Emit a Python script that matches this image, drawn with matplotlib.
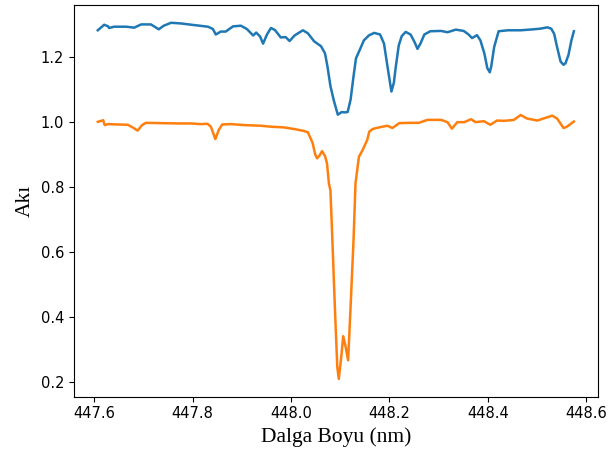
import matplotlib
matplotlib.use("Agg")
import matplotlib.pyplot as plt

# wavelength (nm) and flux, upper spectrum
blue_wl = [447.607, 447.620, 447.628, 447.630, 447.640, 447.665, 447.681, 447.695,
           447.715, 447.731, 447.741, 447.756, 447.776, 447.803, 447.831, 447.841,
           447.847, 447.857, 447.867, 447.882, 447.898, 447.910, 447.923, 447.929,
           447.937, 447.943, 447.951, 447.959, 447.967, 447.979, 447.989, 447.997,
           448.007, 448.024, 448.034, 448.047, 448.061, 448.069, 448.074, 448.080,
           448.087, 448.095, 448.103, 448.109, 448.115, 448.121, 448.127, 448.132,
           448.140, 448.148, 448.158, 448.169, 448.181, 448.189, 448.195, 448.204,
           448.209, 448.213, 448.219, 448.225, 448.233, 448.243, 448.251, 448.257,
           448.263, 448.271, 448.283, 448.305, 448.318, 448.335, 448.351, 448.361,
           448.368, 448.378, 448.385, 448.393, 448.399, 448.404, 448.407, 448.413,
           448.422, 448.441, 448.467, 448.493, 448.507, 448.521, 448.529, 448.535,
           448.540, 448.548, 448.554, 448.558, 448.564, 448.570, 448.575]
blue_flux = [1.281, 1.298, 1.293, 1.288, 1.292, 1.292, 1.289, 1.299,
             1.299, 1.284, 1.295, 1.304, 1.302, 1.297, 1.292, 1.285,
             1.268, 1.277, 1.277, 1.293, 1.295, 1.285, 1.265, 1.274,
             1.262, 1.240, 1.268, 1.288, 1.282, 1.259, 1.260, 1.248,
             1.265, 1.281, 1.272, 1.247, 1.232, 1.210, 1.170, 1.110,
             1.065, 1.022, 1.030, 1.029, 1.030, 1.068, 1.140, 1.195,
             1.222, 1.250, 1.265, 1.273, 1.268, 1.240, 1.180, 1.093,
             1.120, 1.170, 1.235, 1.263, 1.276, 1.268, 1.245, 1.224,
             1.240, 1.268, 1.278, 1.279, 1.275, 1.283, 1.279, 1.268,
             1.257, 1.266, 1.250, 1.210, 1.165, 1.152, 1.170, 1.230,
             1.278, 1.281, 1.281, 1.284, 1.286, 1.290, 1.286, 1.270,
             1.235, 1.185, 1.175, 1.180, 1.205, 1.250, 1.278]

# lower spectrum
orange_wl = [447.607, 447.614, 447.618, 447.621, 447.628, 447.644, 447.668, 447.679,
             447.688, 447.697, 447.705, 447.735, 447.770, 447.797, 447.817, 447.830,
             447.837, 447.846, 447.853, 447.860, 447.877, 447.905, 447.939, 447.959,
             447.985, 448.006, 448.026, 448.034, 448.038, 448.044, 448.049, 448.053,
             448.058, 448.063, 448.069, 448.073, 448.077, 448.080, 448.084, 448.089,
             448.094, 448.097, 448.102, 448.106, 448.111, 448.116, 448.121, 448.127,
             448.131, 448.138, 448.145, 448.155, 448.159, 448.166, 448.176, 448.196,
             448.206, 448.220, 448.243, 448.260, 448.277, 448.305, 448.318, 448.327,
             448.338, 448.352, 448.366, 448.375, 448.392, 448.405, 448.419, 448.433,
             448.453, 448.467, 448.480, 448.501, 448.517, 448.531, 448.541, 448.554,
             448.561, 448.575]
orange_flux = [1.000, 1.003, 1.005, 0.990, 0.993, 0.992, 0.991, 0.982,
               0.973, 0.990, 0.997, 0.996, 0.995, 0.995, 0.993, 0.994,
               0.985, 0.947, 0.975, 0.992, 0.993, 0.990, 0.988, 0.985,
               0.983, 0.978, 0.972, 0.968, 0.955, 0.934, 0.900, 0.888,
               0.897, 0.910, 0.895, 0.873, 0.810, 0.790, 0.637, 0.432,
               0.247, 0.211, 0.278, 0.342, 0.309, 0.268, 0.432, 0.637,
               0.811, 0.893, 0.912, 0.945, 0.970, 0.978, 0.982, 0.988,
               0.981, 0.996, 0.997, 0.997, 1.006, 1.006, 0.999, 0.979,
               0.999, 0.999, 1.008, 0.999, 1.002, 0.991, 1.004, 1.003,
               1.006, 1.021, 1.010, 1.004, 1.012, 1.019, 1.010, 0.981,
               0.985, 1.001]

fig = plt.figure(figsize=(6.08, 4.53), dpi=100)
ax = fig.add_axes([0.1217, 0.1243, 0.8613, 0.8647])

ax.plot(blue_wl, blue_flux, color="tab:blue", lw=1.8)
ax.plot(orange_wl, orange_flux, color="tab:orange", lw=1.8)

ax.set_xticks([447.6, 447.8, 448.0, 448.2, 448.4, 448.6])
ax.set_yticks([0.2, 0.4, 0.6, 0.8, 1.0, 1.2])
ax.tick_params(labelsize=10.5)
ax.set_xlabel("Dalga Boyu (nm)", family="Liberation Serif", fontsize=15.5)
ax.set_ylabel("Akı", family="Liberation Serif", fontsize=15.5)

fig.savefig("out.png", dpi=100)
